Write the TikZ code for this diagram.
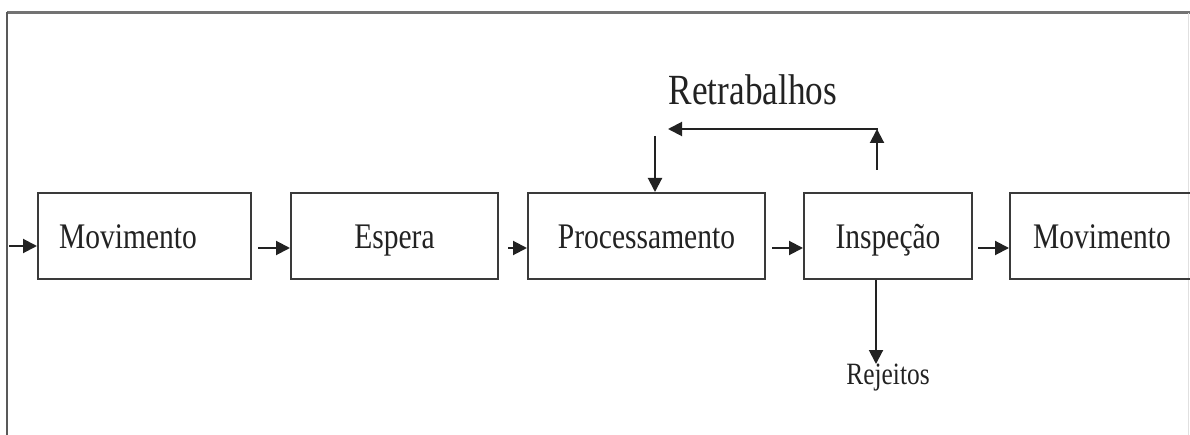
\documentclass[tikz,border=0pt]{standalone}
\usepackage{fontspec}
\setmainfont{Liberation Serif}[FakeStretch=0.82]
\usetikzlibrary{arrows.meta}
\definecolor{boxline}{HTML}{3A3A3A}
\definecolor{txt}{HTML}{222222}
\tikzset{
  procbox/.style={draw=boxline, line width=2pt, minimum height=86pt, inner sep=0pt,
    text height=25pt, text depth=0pt, font=\fontsize{36}{40}\selectfont, text=txt},
  arr/.style={draw=txt, line width=2pt, -{Triangle[length=14pt,width=14pt]}},
  plain/.style={draw=txt, line width=2pt}
}
\begin{document}
\begin{tikzpicture}[x=1pt,y=-1pt]
\useasboundingbox (0,0) rectangle (1190,435);
% frame
\draw[black!55, line width=3pt] (7,13) -- (1192,13);
\draw[black!65, line width=2pt] (7,12) -- (7,437);
\draw[black!12, line width=1pt] (1188,13) -- (1188,437);
% boxes
\node[procbox, minimum width=213pt] (m1) at (144.5,236) {Movimento\hspace*{33pt}};
\node[procbox, minimum width=207pt] (esp) at (394.5,236) {Espera};
\node[procbox, minimum width=237pt] (proc) at (646.5,236) {Processamento};
\node[procbox, minimum width=168pt] (insp) at (888,236) {Inspeção};
\node[procbox, minimum width=184pt] (m2) at (1102,236) {Movimento};
% horizontal connectors
\coordinate (a0) at (9,246);
\coordinate (a1) at (258,248);
\coordinate (a2) at (508,248);
\coordinate (a3) at (772,248);
\coordinate (a4) at (978,248);
\draw[arr] (a0) -- (a0 -| m1.west);
\draw[arr] (a1) -- (a1 -| esp.west);
\draw[arr] (a2) -- (a2 -| proc.west);
\draw[arr] (a3) -- (a3 -| insp.west);
\draw[arr] (a4) -- (a4 -| m2.west);
% rework loop
\node[font=\fontsize{43}{48}\selectfont, text=txt, anchor=base] (ret) at (753,105) {Retrabalhos};
\coordinate (u0) at (877,170);
\coordinate (u1) at (877,129);
\coordinate (h0) at (877,129);
\coordinate (h1) at (668,129);
\coordinate (d0) at (655,136);
\draw[arr] (u0) -- (u1);
\draw[arr] ([xshift=1pt]h0) -- (h1);
\draw[arr] (d0) -- (d0 |- proc.north);
% rejects
\node[font=\fontsize{31}{34}\selectfont, text=txt, anchor=base] (rej) at (888,384) {Rejeitos};
\coordinate (r0) at (876,279);
\coordinate (r1) at (876,364);
\draw[arr] (r0 |- insp.south) -- (r1);
\end{tikzpicture}
\end{document}
